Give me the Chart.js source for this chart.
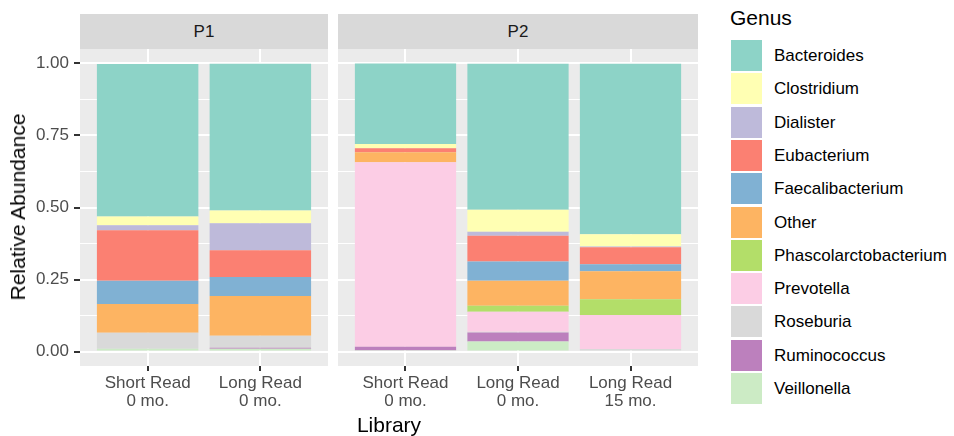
<!DOCTYPE html>
<html>
<head>
<meta charset="utf-8">
<script src="https://cdn.jsdelivr.net/npm/chart.js@4.4.1/dist/chart.umd.min.js"></script>
<style>
  body { margin: 0; background: #fff; font-family: "Liberation Sans", Arial, Helvetica, sans-serif; }
  #wrap { position: relative; width: 954px; height: 436px; overflow: hidden; }
  .abs { position: absolute; }
  .strip { background: #D9D9D9; color: #1A1A1A; font-size: 17px; text-align: center; line-height: 35px; height: 35px; top: 14px; }
  .key { position: absolute; left: 731px; width: 31px; height: 31px; }
  .lab { position: absolute; left: 774px; font-size: 17px; color: #000; line-height: 31px; white-space: nowrap; }
</style>
</head>
<body>
<div id="wrap">
  <div class="abs strip" style="left:80px;width:248px;">P1</div>
  <div class="abs strip" style="left:338px;width:360px;">P2</div>
  <div class="abs" style="left:0;top:49px;width:328px;height:387px;"><canvas id="p1" width="328" height="387"></canvas></div>
  <div class="abs" style="left:338px;top:49px;width:360px;height:387px;"><canvas id="p2" width="360" height="387"></canvas></div>
  <div class="abs" id="ytitle" style="left:18px;top:207px;font-size:21px;color:#000;white-space:nowrap;transform:translate(-50%,-50%) rotate(-90deg);">Relative Abundance</div>
  <div class="abs" style="left:389px;top:425px;font-size:21px;color:#000;transform:translate(-50%,-50%);">Library</div>
  <div class="abs" style="left:730px;top:6px;font-size:21px;color:#000;">Genus</div>
  <div id="legend"></div>
</div>
<script>
// 各パネルのX軸ラベル
const p1Labels = [['Short Read', '0 mo.'], ['Long Read', '0 mo.']];
const p2Labels = [['Short Read', '0 mo.'], ['Long Read', '0 mo.'], ['Long Read', '15 mo.']];

const genera = ['Bacteroides', 'Clostridium', 'Dialister', 'Eubacterium', 'Faecalibacterium',
  'Other', 'Phascolarctobacterium', 'Prevotella', 'Roseburia', 'Ruminococcus', 'Veillonella'];
const colors = ['#8DD3C7', '#FFFFB3', '#BEBADA', '#FB8072', '#80B1D3',
  '#FDB462', '#B3DE69', '#FCCDE5', '#D9D9D9', '#BC80BD', '#CCEBC5'];

// 値の並び: P1 Short 0, P1 Long 0, P2 Short 0, P2 Long 0, P2 Long 15
const bacteroides      = [0.529, 0.509, 0.280, 0.507, 0.592];
const clostridium      = [0.031, 0.045, 0.014, 0.076, 0.042];
const dialister        = [0.017, 0.093, 0.000, 0.014, 0.003];
const eubacterium      = [0.175, 0.093, 0.014, 0.089, 0.059];
const faecalibacterium = [0.081, 0.066, 0.000, 0.067, 0.024];
const other            = [0.100, 0.138, 0.035, 0.087, 0.097];
const phascolarcto     = [0.000, 0.000, 0.000, 0.021, 0.055];
const prevotella       = [0.000, 0.000, 0.640, 0.069, 0.118];
const roseburia        = [0.055, 0.042, 0.000, 0.003, 0.005];
const ruminococcus     = [0.000, 0.003, 0.012, 0.031, 0.004];
const veillonella      = [0.010, 0.010, 0.005, 0.035, 0.000];

const values = [bacteroides, clostridium, dialister, eubacterium, faecalibacterium,
  other, phascolarcto, prevotella, roseburia, ruminococcus, veillonella];

const yTicks = [0, 0.125, 0.25, 0.375, 0.5, 0.625, 0.75, 0.875, 1];

Chart.defaults.font.family = '"Liberation Sans", Arial, Helvetica, sans-serif';

// パネル背景
const panelBg = {
  id: 'panelBg',
  beforeDraw(chart) {
    const a = chart.chartArea;
    const ctx = chart.ctx;
    ctx.save();
    ctx.fillStyle = '#EBEBEB';
    ctx.fillRect(a.left, a.top, a.right - a.left, a.bottom - a.top);
    ctx.restore();
  }
};

function isMajor(v) {
  return Math.abs(v * 4 - Math.round(v * 4)) < 1e-9;
}

function makePanel(canvasId, labels, offset, showY) {
  // ggplotの積み上げは先頭の水準が上なので逆順に積む
  const datasets = [];
  for (let g = genera.length - 1; g >= 0; g--) {
    datasets.push({
      label: genera[g],
      data: labels.map((l, i) => ({ x: i + 1, y: values[g][offset + i] })),
      backgroundColor: colors[g],
      borderWidth: 0,
      barPercentage: 0.9,
      categoryPercentage: 1.0
    });
  }

  const config = {
    type: 'bar',
    data: { datasets: datasets },
    options: {
      responsive: false,
      animation: false,
      layout: { padding: 0 },
      plugins: { legend: { display: false }, tooltip: { enabled: false } },
      scales: {
        x: {
          type: 'linear',
          stacked: true,
          offset: false,
          min: 0.4,
          max: labels.length + 0.6,
          afterBuildTicks: s => { s.ticks = labels.map((l, i) => ({ value: i + 1 })); },
          afterFit: s => { s.height = 70; s.paddingLeft = 0; s.paddingRight = 0; },
          border: { display: false },
          grid: { offset: false, color: '#FFFFFF', lineWidth: 2, tickColor: '#333333', tickLength: 5, tickWidth: 2 },
          ticks: {
            autoSkip: false, maxRotation: 0, minRotation: 0, padding: 3,
            color: '#4D4D4D', font: { size: 17, lineHeight: 1.06 },
            callback: v => labels[Math.round(v) - 1]
          }
        },
        y: {
          stacked: true,
          min: -0.05,
          max: 1.05,
          afterBuildTicks: s => { s.ticks = yTicks.map(v => ({ value: v })); },
          afterFit: s => { s.width = showY ? 80 : 0; s.paddingTop = 0; s.paddingBottom = 0; },
          border: { display: false },
          grid: {
            color: '#FFFFFF',
            lineWidth: c => isMajor(c.tick.value) ? 2 : 1,
            drawTicks: showY,
            tickLength: 6,
            tickWidth: 2,
            tickColor: c => isMajor(c.tick.value) ? '#333333' : 'rgba(0,0,0,0)'
          },
          ticks: {
            display: showY, padding: 5, color: '#4D4D4D', font: { size: 17 },
            callback: v => isMajor(v) ? v.toFixed(2) : ''
          }
        }
      }
    },
    plugins: [panelBg]
  };
  return new Chart(document.getElementById(canvasId).getContext('2d'), config);
}

makePanel('p1', p1Labels, 0, true);
makePanel('p2', p2Labels, 2, false);

// 凡例
const legend = document.getElementById('legend');
genera.forEach((g, i) => {
  const top = 40 + i * 33.3;
  const k = document.createElement('div');
  k.className = 'key';
  k.style.top = top + 'px';
  k.style.background = colors[i];
  legend.appendChild(k);
  const t = document.createElement('div');
  t.className = 'lab';
  t.style.top = top + 'px';
  t.textContent = g;
  legend.appendChild(t);
});
</script>
</body>
</html>
